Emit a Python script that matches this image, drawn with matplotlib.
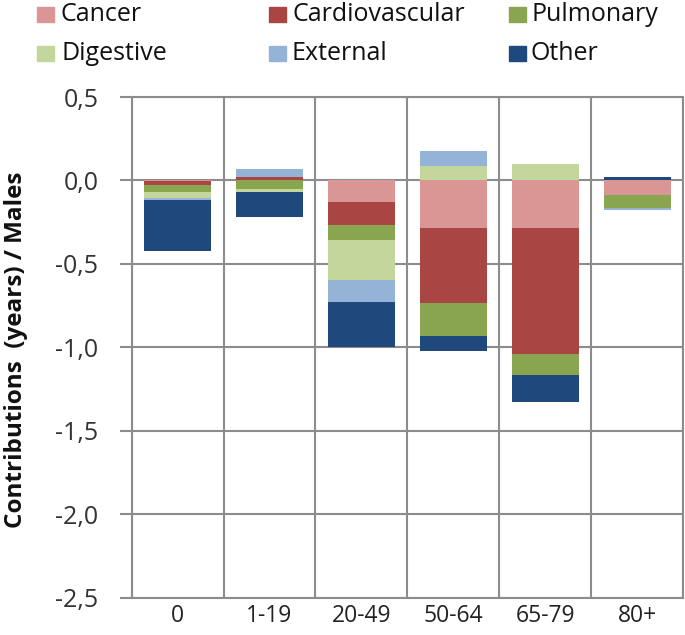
import numpy as np
import matplotlib
matplotlib.use('Agg')
import matplotlib.pyplot as plt
from matplotlib.patches import Rectangle
from matplotlib.ticker import FuncFormatter

# age groups and contributions (years)
age_groups = ['0', '1-19', '20-49', '50-64', '65-79', '80+']
cancer = [-0.005, 0.0, -0.13, -0.285, -0.285, -0.09]
cardiovascular = [-0.025, 0.02, -0.14, -0.45, -0.755, 0.0]
pulmonary = [-0.04, -0.05, -0.09, -0.20, -0.125, -0.075]
digestive = [-0.035, -0.02, -0.235, 0.085, 0.10, 0.0]
external = [-0.012, 0.05, -0.135, 0.09, 0.0, -0.012]
other = [-0.305, -0.15, -0.27, -0.09, -0.165, 0.018]

series_names = ['Cancer', 'Cardiovascular', 'Pulmonary', 'Digestive', 'External', 'Other']
series_values = [cancer, cardiovascular, pulmonary, digestive, external, other]
colors = ['#D99694', '#A94543', '#8AA54F', '#C3D69B', '#95B3D7', '#1F497D']

plt.rcParams['font.family'] = ['Open Sans', 'DejaVu Sans']

fig = plt.figure(figsize=(6.85, 6.35), dpi=100)
W, H = 685, 635
ax = fig.add_axes([131.7 / W, 1 - 597.5 / H, (683 - 131.7) / W, (597.5 - 97) / H])

x = np.arange(len(age_groups))
pos_bottom = np.zeros(len(age_groups))
neg_bottom = np.zeros(len(age_groups))
for name, vals, col in zip(series_names, series_values, colors):
    vals = np.array(vals)
    bottom = np.where(vals >= 0, pos_bottom, neg_bottom)
    ax.bar(x, vals, width=0.73, bottom=bottom, color=col, zorder=3, linewidth=0)
    pos_bottom += np.where(vals >= 0, vals, 0)
    neg_bottom += np.where(vals < 0, vals, 0)

grid_col = '#8c8c8c'
ax.set_xlim(-0.5, len(age_groups) - 0.5)
ax.set_ylim(-2.5, 0.5)
ax.set_yticks(np.arange(-2.5, 0.51, 0.5))
ax.yaxis.set_major_formatter(FuncFormatter(lambda v, p: f'{v:.1f}'.replace('.', ',')))
ax.set_xticks(x)
ax.set_xticklabels(age_groups)
ax.set_xticks(np.arange(-0.5, len(age_groups)), minor=True)
ax.grid(True, axis='y', color=grid_col, linewidth=1.5, zorder=0)
ax.grid(True, axis='x', which='minor', color=grid_col, linewidth=1.5, zorder=0)
ax.tick_params(axis='x', which='major', length=0, pad=5, labelsize=16.5, labelcolor='#222222')
ax.tick_params(axis='x', which='minor', length=0)
ax.tick_params(axis='y', length=9, width=1.5, color=grid_col, pad=15, labelsize=18, labelcolor='#333333')
for s in ax.spines.values():
    s.set_color(grid_col)
    s.set_linewidth(1.5)

fig.text(16 / W, 1 - 350 / H, 'Contributions  (years) / Males', rotation=90,
         ha='center', va='center', fontsize=17.5, fontweight='bold', color='#111111')

# legend, two rows of three
leg_cols = [37, 269, 509]
leg_text = [61, 292, 531]
leg_rows = [14.5, 53]
sq_w, sq_h = 17, 15
for i, (name, col) in enumerate(zip(series_names, colors)):
    cx = leg_cols[i % 3]
    cy = leg_rows[i // 3]
    fig.patches.append(Rectangle((cx / W, 1 - (cy + sq_h / 2) / H), sq_w / W, sq_h / H,
                                 transform=fig.transFigure, color=col, figure=fig))
    fig.text(leg_text[i % 3] / W, 1 - cy / H, name, ha='left', va='center',
             fontsize=18, color='#111111')

fig.savefig('out.png', dpi=100)
